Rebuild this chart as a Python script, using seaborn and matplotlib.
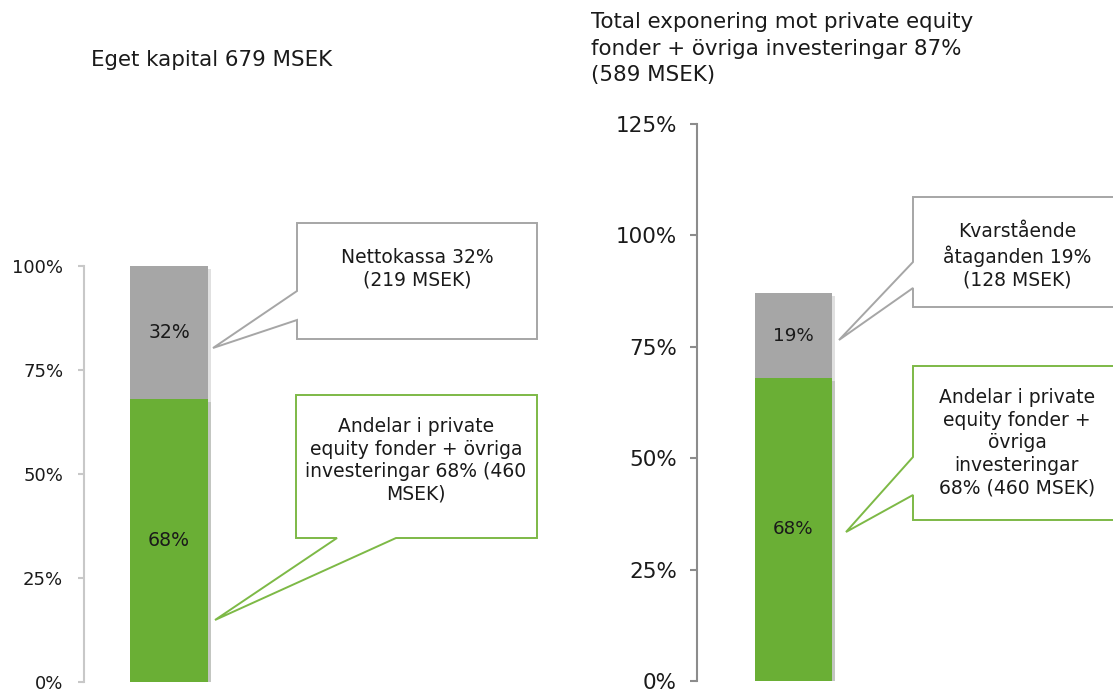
import matplotlib
matplotlib.use("Agg")
import matplotlib.pyplot as plt
import matplotlib.patheffects as pe
from matplotlib.patches import Polygon
import pandas as pd
import seaborn as sns

# data
left_cat = ["Eget kapital"]
left_green = [68]   # Andelar i private equity fonder + övriga investeringar
left_gray = [32]    # Nettokassa
right_cat = ["Total exponering"]
right_green = [68]  # Andelar i private equity fonder + övriga investeringar
right_gray = [19]   # Kvarstående åtaganden
left_ticks = [0, 25, 50, 75, 100]
right_ticks = [0, 25, 50, 75, 100, 125]

GREEN = "#6AAF35"
GRAY = "#A6A6A6"
GREEN_LINE = "#7DB946"
TXT = "#1A1A1A"

sns.set_style("white")
plt.rcParams["font.family"] = ["DejaVu Sans"]

W, H = 1113, 691
fig = plt.figure(figsize=(W / 100, H / 100), dpi=100)


def px_axes(left, top, right, bottom):
    return fig.add_axes([left / W, 1 - bottom / H, (right - left) / W, (bottom - top) / H])


def P(x, y):
    return (x / W, 1 - y / H)


def draw_panel(ax, cat, green, gray, ticks, ymax, xlim, fs, lab_fs, spine_col, ticklen, pad):
    df = pd.DataFrame({"cat": cat, "green": green,
                       "total": [g + r for g, r in zip(green, gray)]})
    sns.barplot(data=df, x="cat", y="total", color=GRAY, width=0.5,
                saturation=1, ax=ax)
    sns.barplot(data=df, x="cat", y="green", color=GREEN, width=0.5,
                saturation=1, ax=ax)
    for p in ax.patches:
        p.set_linewidth(0)
        p.set_path_effects([pe.SimplePatchShadow(offset=(2, -2), alpha=0.15),
                            pe.Normal()])
    for i in range(len(cat)):
        ax.text(i, green[i] / 2, f"{green[i]}%", ha="center", va="center",
                fontsize=lab_fs, color=TXT)
        ax.text(i, green[i] + gray[i] / 2, f"{gray[i]}%", ha="center",
                va="center", fontsize=lab_fs, color=TXT)
    ax.set_ylim(0, ymax)
    ax.set_xlim(*xlim)
    ax.set_yticks(ticks)
    ax.set_yticklabels([f"{t}%" for t in ticks])
    ax.set_xticks([])
    ax.set_xlabel("")
    ax.set_ylabel("")
    ax.set_facecolor("none")
    for s in ["top", "right", "bottom"]:
        ax.spines[s].set_visible(False)
    ax.spines["left"].set_color(spine_col)
    ax.spines["left"].set_linewidth(1.5)
    ax.tick_params(axis="y", left=True, direction="out", length=ticklen,
                   width=1.5, color=spine_col, labelsize=fs, labelcolor=TXT,
                   pad=pad)


ax1 = px_axes(84, 266, 540, 682)
draw_panel(ax1, left_cat, left_green, left_gray, left_ticks, 100,
           (-0.545, 2.378), 13, 13.6, "#C8C8C8", 4, 11)

ax2 = px_axes(697, 124, 1113, 681)
draw_panel(ax2, right_cat, right_green, right_gray, right_ticks, 125,
           (-0.627, 2.075), 15.5, 13.2, "#8C8C8C", 5, 9.5)

# titles
fig.text(*P(91, 60), "Eget kapital 679 MSEK", fontsize=15.4, color=TXT,
         ha="left", va="center")
fig.text(*P(591, 12), "Total exponering mot private equity\nfonder + övriga investeringar 87%\n(589 MSEK)",
         fontsize=15.4, color=TXT, ha="left", va="top", linespacing=1.42)


def callout(pts, edge, lines_xy, text, fs):
    poly = Polygon([P(x, y) for x, y in pts], closed=True, transform=fig.transFigure,
                   facecolor="white", edgecolor=edge, linewidth=1.4, zorder=5)
    fig.add_artist(poly)
    fig.text(*P(*lines_xy), text, fontsize=fs, color=TXT, ha="center", va="top",
             linespacing=1.24, zorder=6)


# left panel callouts
callout([(297, 223), (537, 223), (537, 339), (297, 339), (297, 320), (213, 348), (297, 291)],
        GRAY, (417, 248), "Nettokassa 32%\n(219 MSEK)", 13.5)
callout([(296, 395), (537, 395), (537, 538), (396, 538), (215, 620), (337, 538), (296, 538)],
        GREEN_LINE, (416, 417), "Andelar i private\nequity fonder + övriga\ninvesteringar 68% (460\nMSEK)", 13.5)

# right panel callouts
callout([(913, 197), (1125, 197), (1125, 307), (913, 307), (913, 288), (839, 340), (913, 262)],
        GRAY, (1017, 222), "Kvarstående\nåtaganden 19%\n(128 MSEK)", 13.5)
callout([(913, 366), (1125, 366), (1125, 520), (913, 520), (913, 495), (846, 532), (913, 457)],
        GREEN_LINE, (1017, 388), "Andelar i private\nequity fonder +\növriga\ninvesteringar\n68% (460 MSEK)", 13.5)

fig.savefig("out.png", dpi=100)
